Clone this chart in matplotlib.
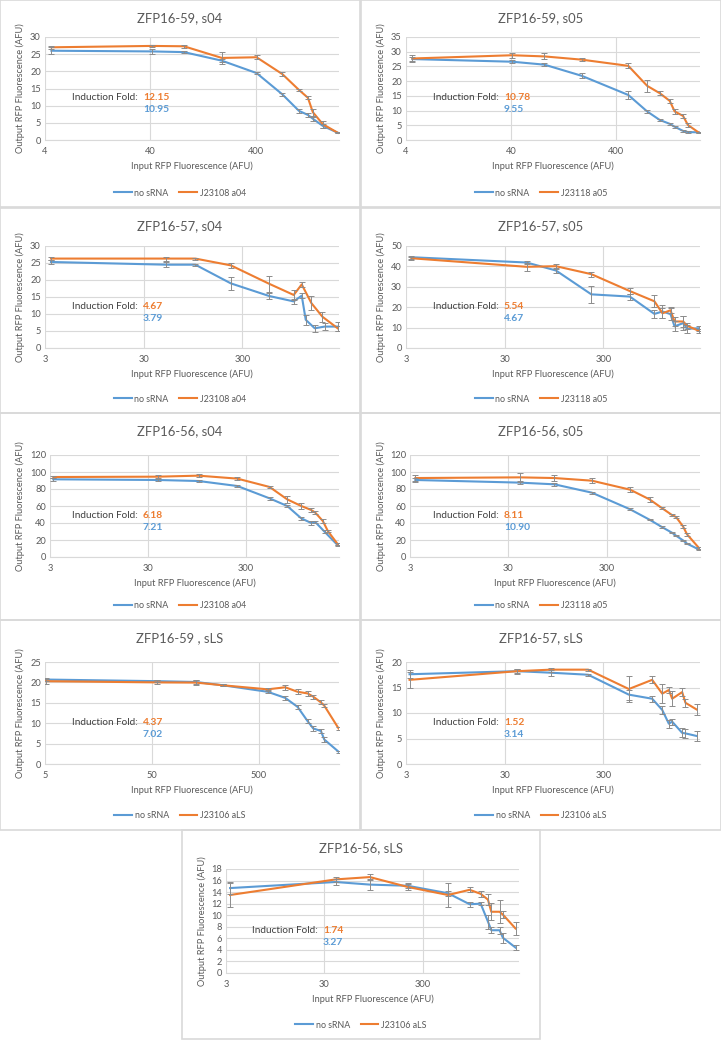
import matplotlib
matplotlib.use('Agg')
import matplotlib.pyplot as plt
from matplotlib.patches import Rectangle
from matplotlib.lines import Line2D

plt.rcParams['font.family'] = ['Lato', 'DejaVu Sans']

BLUE = '#5b9bd5'
ORANGE = '#ed7d31'
TXT = '#595959'
GRID = '#d9d9d9'
ERR = '#8c8c8c'
W, H = 721, 1040

# ---- ZFP16-59, s04
p1_x = [4.6, 41, 83, 190, 405, 711, 1021, 1243, 1384, 1722, 2388]
p1_blue = [26.0, 25.8, 25.6, 23.1, 19.5, 13.3, 8.5, 7.3, 6.2, 4.1, 2.1]
p1_blue_err = [1.0, 0.7, 0.4, 0.5, 0.4, 0.5, 0.5, 0.5, 0.6, 0.5, 0.2]
p1_orange = [27.0, 27.4, 27.3, 23.9, 24.1, 19.2, 14.6, 12.3, 8.1, 4.6, 2.1]
p1_orange_err = [0.4, 0.4, 0.5, 1.8, 0.6, 0.5, 0.4, 0.5, 1.0, 1.0, 0.2]

# ---- ZFP16-59, s05
p2_x = [4.6, 41, 83, 188, 520, 786, 1036, 1288, 1436, 1723, 1919, 2439]
p2_blue = [27.5, 26.6, 25.6, 21.8, 15.3, 9.7, 6.8, 5.5, 4.5, 3.1, 2.7, 2.6]
p2_blue_err = [0.6, 0.6, 0.5, 0.8, 1.2, 0.5, 0.3, 0.3, 0.4, 0.3, 0.2, 0.2]
p2_orange = [27.7, 28.8, 28.4, 27.3, 25.2, 18.4, 15.9, 13.3, 9.7, 8.2, 5.1, 2.5]
p2_orange_err = [1.2, 0.8, 1.0, 0.5, 0.8, 2.0, 0.7, 0.7, 0.8, 0.8, 0.8, 0.2]

# ---- ZFP16-57, s04
p3_xb = [3.45, 51, 100, 229, 558, 991, 1195, 1312, 1618, 2040, 2793]
p3_blue = [25.3, 24.5, 24.5, 19.0, 15.3, 13.7, 15.4, 8.3, 5.8, 6.3, 6.3]
p3_blue_err = [0.6, 0.8, 0.3, 2.0, 0.8, 0.8, 0.8, 1.5, 1.0, 1.0, 1.3]
p3_xo = [3.45, 51, 100, 229, 558, 991, 1195, 1497, 1935, 2793]
p3_orange = [26.3, 26.3, 26.3, 24.3, 18.9, 15.6, 18.7, 13.2, 9.2, 5.7]
p3_orange_err = [0.4, 0.6, 0.3, 0.7, 2.3, 1.4, 0.8, 2.0, 1.5, 0.8]

# ---- ZFP16-57, s05
p4_x = [3.4, 50, 99, 226, 555, 984, 1188, 1433, 1574, 1925, 2115, 2778]
p4_blue = [44.5, 41.9, 38.0, 26.3, 25.2, 16.7, 17.9, 16.6, 10.6, 12.2, 9.4, 9.7]
p4_blue_err = [0.8, 0.6, 1.2, 4.0, 1.5, 2.0, 3.0, 3.0, 2.5, 3.5, 2.0, 1.2]
p4_orange = [44.0, 39.8, 40.1, 36.2, 27.9, 22.9, 17.0, 18.5, 13.0, 13.0, 10.9, 8.4]
p4_orange_err = [0.8, 2.0, 1.2, 1.2, 1.5, 3.0, 2.5, 1.5, 2.0, 2.5, 1.5, 1.0]

# ---- ZFP16-56, s04
p5_xb = [3.24, 38, 99, 247, 527, 798, 1110, 1404, 1544, 1920, 2627]
p5_blue = [91.4, 90.6, 89.4, 83.5, 69.0, 60.0, 45.5, 40.0, 41.2, 29.8, 13.7]
p5_blue_err = [1.5, 1.0, 1.5, 1.5, 1.5, 1.5, 2.0, 2.0, 1.5, 1.5, 1.0]
p5_xo = [3.24, 38, 99, 247, 527, 798, 1110, 1404, 1544, 1844, 2076, 2627]
p5_orange = [94.1, 94.5, 95.7, 92.2, 82.4, 67.8, 60.0, 55.3, 52.2, 42.4, 30.6, 14.9]
p5_orange_err = [1.5, 1.5, 1.5, 1.5, 1.5, 4.0, 3.0, 2.0, 1.5, 2.0, 1.5, 1.0]

# ---- ZFP16-56, s05
p6_x = [3.4, 39, 88, 211, 517, 814, 1086, 1375, 1512, 1780, 1956, 2568]
p6_blue = [90.6, 87.5, 85.5, 75.7, 56.1, 43.9, 35.3, 28.6, 25.1, 19.6, 15.7, 9.0]
p6_blue_err = [2.0, 1.5, 1.5, 1.0, 1.0, 0.8, 0.8, 0.8, 0.8, 0.8, 0.8, 0.8]
p6_orange = [92.9, 93.7, 92.9, 89.8, 79.2, 67.8, 57.6, 49.4, 47.1, 36.1, 26.7, 11.0]
p6_orange_err = [4.0, 5.0, 4.0, 3.0, 3.0, 3.0, 1.5, 1.5, 1.5, 1.5, 1.5, 1.0]

# ---- ZFP16-59 , sLS
p7_x = [5.1, 56, 129, 229, 602, 881, 1148, 1425, 1610, 1897, 2040, 2777]
p7_blue = [20.7, 20.3, 20.1, 19.3, 17.7, 16.2, 14.0, 10.5, 8.7, 8.1, 6.0, 3.0]
p7_blue_err = [0.3, 0.3, 0.5, 0.3, 0.4, 0.4, 0.4, 0.5, 0.5, 0.5, 0.5, 0.3]
p7_orange = [20.3, 20.0, 19.95, 19.3, 18.3, 18.8, 17.7, 17.3, 16.5, 15.1, 14.3, 8.7]
p7_orange_err = [0.6, 0.5, 0.6, 0.3, 0.4, 0.6, 0.6, 0.6, 0.5, 0.5, 0.4, 0.4]

# ---- ZFP16-57, sLS
p8_x = [3.26, 40, 88, 210, 542, 934, 1181, 1378, 1490, 1880, 2031, 2628]
p8_blue = [17.6, 18.2, 17.9, 17.5, 13.6, 12.8, 10.6, 7.9, 8.3, 6.1, 6.0, 5.5]
p8_blue_err = [0.8, 0.4, 0.6, 0.2, 1.0, 0.6, 0.8, 0.8, 0.6, 0.9, 0.9, 1.0]
p8_orange = [16.5, 18.2, 18.5, 18.5, 14.7, 16.5, 13.8, 14.5, 12.8, 14.1, 12.0, 10.7]
p8_orange_err = [1.5, 0.5, 0.4, 0.2, 2.5, 0.7, 1.8, 0.6, 1.5, 0.8, 0.8, 1.0]

# ---- ZFP16-56, sLS
p9_x = [3.3, 39, 87, 210, 542, 898, 1162, 1378, 1490, 1809, 1955, 2628]
p9_blue = [14.7, 15.75, 15.3, 15.1, 13.8, 11.9, 12.0, 8.9, 7.4, 7.4, 6.1, 4.4]
p9_blue_err = [1.0, 0.5, 0.9, 0.4, 0.4, 0.4, 0.3, 1.2, 0.5, 0.6, 0.9, 0.5]
p9_orange = [13.5, 16.2, 16.6, 14.9, 13.5, 14.4, 13.7, 12.7, 10.6, 10.6, 10.1, 7.7]
p9_orange_err = [2.0, 0.5, 0.5, 0.5, 2.0, 0.4, 0.5, 1.0, 1.5, 2.0, 0.6, 1.2]

fig = plt.figure(figsize=(W / 100, H / 100), dpi=100)


def px_box(l, t, w, h):
    return [l / W, 1 - (t + h) / H, w / W, h / H]


def draw_panel(frame, ax_lr, ax_tb, title, xlim, xticks, ylim, ystep,
               xb, yb, eb, xo, yo, eo, olabel, fold_o, fold_b, fold_x=(72, 143)):
    fl, ft, fw, fh = frame
    fig.patches.append(Rectangle((fl / W, 1 - (ft + fh) / H), fw / W, fh / H,
                                 transform=fig.transFigure, fill=False,
                                 edgecolor=GRID, lw=1.2))
    al, ar = ax_lr
    at, ab = ax_tb
    ax = fig.add_axes(px_box(fl + al, ft + at, ar - al, ab - at))
    ax.set_xscale('log')
    ax.set_xlim(*xlim)
    ax.set_ylim(*ylim)
    ax.set_xticks(xticks)
    ax.set_xticklabels([str(t) for t in xticks])
    ax.minorticks_off()
    ax.set_yticks(range(ylim[0], ylim[1] + 1, ystep))
    ax.grid(True, color=GRID, lw=0.8)
    ax.set_axisbelow(True)
    for s in ['top', 'right', 'left']:
        ax.spines[s].set_visible(False)
    ax.spines['bottom'].set_color(GRID)
    ax.tick_params(length=0, labelsize=6.7, colors=TXT)
    ax.tick_params(axis='x', pad=5)
    ax.tick_params(axis='y', pad=3)

    ax.plot(xb, yb, color=BLUE, lw=1.5, zorder=3)
    ax.plot(xo, yo, color=ORANGE, lw=1.5, zorder=4)
    ax.errorbar(xb, yb, yerr=eb, fmt='none', ecolor=ERR, elinewidth=0.7,
                capsize=2, capthick=0.7, zorder=5)
    ax.errorbar(xo, yo, yerr=eo, fmt='none', ecolor=ERR, elinewidth=0.7,
                capsize=2, capthick=0.7, zorder=5)

    cx = (fl + fw / 2) / W
    fig.text(cx, 1 - (ft + 18) / H, title, ha='center', va='center',
             fontsize=9.4, color=TXT)
    fig.text((fl + 20) / W, 1 - (ft + (at + ab) / 2) / H,
             'Output RFP Fluorescence (AFU)', rotation=90, ha='center',
             va='center', fontsize=6.7, color=TXT)
    fig.text((fl + (al + ar) / 2) / W, 1 - (ft + ab + 26) / H,
             'Input RFP Fluorescence (AFU)', ha='center', va='center',
             fontsize=6.7, color=TXT)

    yi = ft + at + 0.59 * (ab - at)
    fig.text((fl + fold_x[0]) / W, 1 - yi / H, 'Induction Fold:', ha='left',
             va='center', fontsize=7.2, color='#404040')
    fig.text((fl + fold_x[1]) / W, 1 - yi / H, fold_o, ha='left',
             va='center', fontsize=7.4, color=ORANGE, fontweight='bold')
    fig.text((fl + fold_x[1]) / W, 1 - (yi + 12) / H, fold_b, ha='left',
             va='center', fontsize=7.4, color=BLUE, fontweight='bold')

    handles = [Line2D([], [], color=BLUE, lw=1.5),
               Line2D([], [], color=ORANGE, lw=1.5)]
    fig.legend(handles, ['no sRNA', olabel], loc='center',
               bbox_to_anchor=(cx, 1 - (ft + fh - 14) / H), ncol=2,
               frameon=False, fontsize=6.4, handlelength=2.0,
               columnspacing=1.2, handletextpad=0.3, labelcolor=TXT)
    return ax


# row 1
draw_panel((0, 0, 360, 207), (45, 339), (37, 140), 'ZFP16-59, s04',
           (4, 2450), [4, 40, 400], (0, 30), 5,
           p1_x, p1_blue, p1_blue_err, p1_x, p1_orange, p1_orange_err,
           'J23108 a04', '12.15', '10.95')
draw_panel((361, 0, 360, 207), (45, 339), (37, 140), 'ZFP16-59, s05',
           (4, 2500), [4, 40, 400], (0, 35), 5,
           p2_x, p2_blue, p2_blue_err, p2_x, p2_orange, p2_orange_err,
           'J23118 a05', '10.78', '9.55')
# row 2
draw_panel((0, 208, 360, 205), (45, 339), (38, 140), 'ZFP16-57, s04',
           (3, 2850), [3, 30, 300], (0, 30), 5,
           p3_xb, p3_blue, p3_blue_err, p3_xo, p3_orange, p3_orange_err,
           'J23108 a04', '4.67', '3.79')
draw_panel((361, 208, 360, 205), (45, 339), (38, 140), 'ZFP16-57, s05',
           (3, 2850), [3, 30, 300], (0, 50), 10,
           p4_x, p4_blue, p4_blue_err, p4_x, p4_orange, p4_orange_err,
           'J23118 a05', '5.54', '4.67')
# row 3
draw_panel((0, 413, 360, 207), (50, 339), (42, 144), 'ZFP16-56, s04',
           (3, 2700), [3, 30, 300], (0, 120), 20,
           p5_xb, p5_blue, p5_blue_err, p5_xo, p5_orange, p5_orange_err,
           'J23108 a04', '6.18', '7.21')
draw_panel((361, 413, 360, 207), (49, 339), (42, 144), 'ZFP16-56, s05',
           (3, 2650), [3, 30, 300], (0, 120), 20,
           p6_x, p6_blue, p6_blue_err, p6_x, p6_orange, p6_orange_err,
           'J23118 a05', '8.11', '10.90')
# row 4
draw_panel((0, 620, 360, 210), (45, 339), (42, 144), 'ZFP16-59 , sLS',
           (5, 2800), [5, 50, 500], (0, 25), 5,
           p7_x, p7_blue, p7_blue_err, p7_x, p7_orange, p7_orange_err,
           'J23106 aLS', '4.37', '7.02')
draw_panel((361, 620, 360, 210), (45, 339), (42, 144), 'ZFP16-57, sLS',
           (3, 2850), [3, 30, 300], (0, 20), 5,
           p8_x, p8_blue, p8_blue_err, p8_x, p8_orange, p8_orange_err,
           'J23106 aLS', '1.52', '3.14')
# bottom
draw_panel((182, 830, 358, 209), (44, 337), (39, 143), 'ZFP16-56, sLS',
           (3, 2850), [3, 30, 300], (0, 18), 2,
           p9_x, p9_blue, p9_blue_err, p9_x, p9_orange, p9_orange_err,
           'J23106 aLS', '1.74', '3.27', fold_x=(70, 141))

fig.savefig('out.png', dpi=100)
